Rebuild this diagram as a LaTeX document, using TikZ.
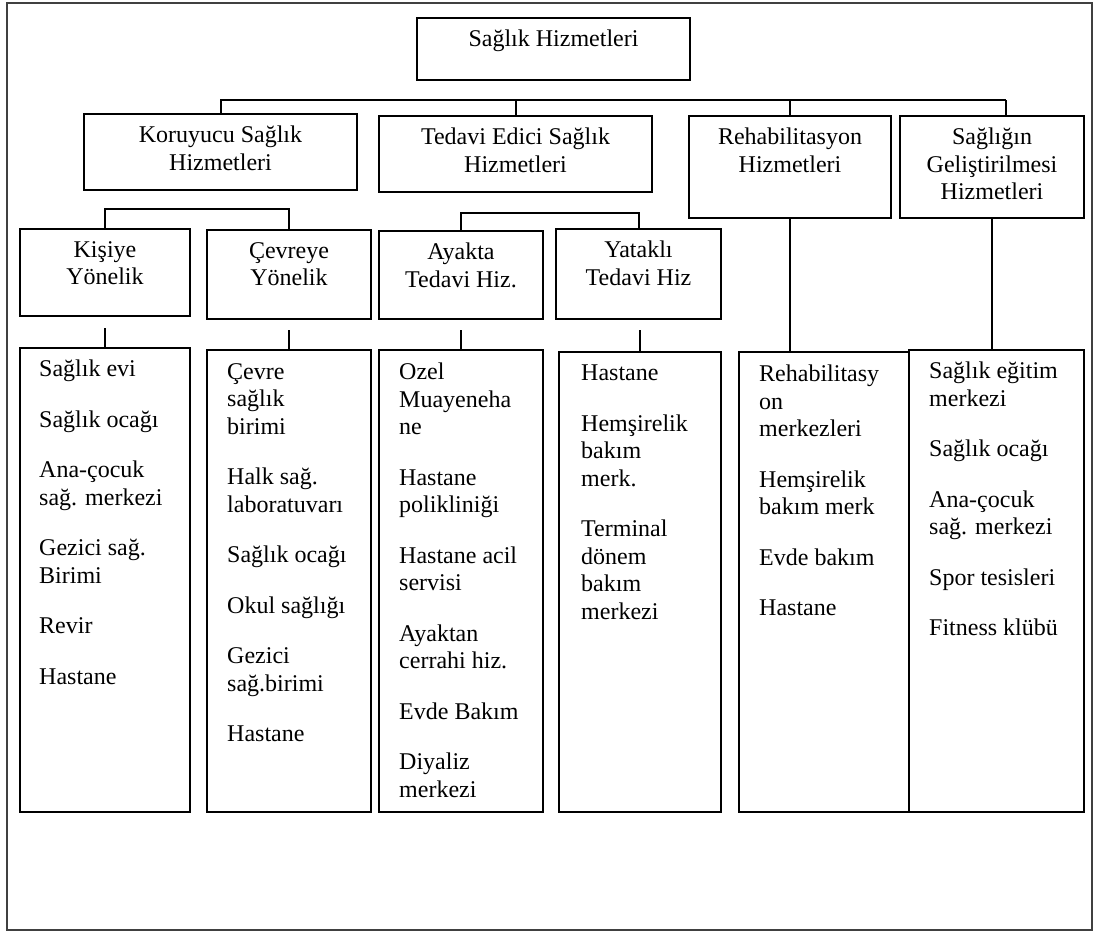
\documentclass[tikz,border=0pt]{standalone}
\usepackage{fontspec}
\setmainfont{Liberation Serif}
\usepackage{tikz}

\begin{document}
\begin{tikzpicture}[x=1pt, y=-1pt,
  every node/.style={font=\fontsize{24}{27.5}\selectfont},
  cell/.style={draw, line width=2pt, anchor=north west, inner sep=0pt},
  head/.style={anchor=north, align=center, inner sep=0pt},
  items/.style={anchor=north west, align=left, inner sep=0pt},
  link/.style={line width=2pt}]
  \useasboundingbox (0,0) rectangle (1097,932);
  \draw [line width=1.5pt, black!75] (7,3) rectangle (1092,930);

  \node (top) [cell, minimum width=273, minimum height=62] at (416,17) {};
  \node (kor) [cell, minimum width=273, minimum height=76] at (83,113) {};
  \node (ted) [cell, minimum width=273, minimum height=76] at (378,115) {};
  \node (reh) [cell, minimum width=202, minimum height=102] at (688,115) {};
  \node (gel) [cell, minimum width=184, minimum height=102] at (899,115) {};
  \node (kis) [cell, minimum width=170, minimum height=87] at (19,228) {};
  \node (cev) [cell, minimum width=164, minimum height=89] at (206,229) {};
  \node (aya) [cell, minimum width=164, minimum height=88] at (378,230) {};
  \node (yat) [cell, minimum width=165, minimum height=90] at (555,228) {};
  \node (kisL) [cell, minimum width=170, minimum height=464] at (19,347) {};
  \node (cevL) [cell, minimum width=164, minimum height=462] at (206,349) {};
  \node (ayaL) [cell, minimum width=164, minimum height=462] at (378,349) {};
  \node (yatL) [cell, minimum width=162, minimum height=460] at (558,351) {};
  \node (rehL) [cell, minimum width=170, minimum height=460] at (738,351) {};
  \node (gelL) [cell, minimum width=175, minimum height=462] at (908,349) {};

  \node (top-t) [head] at ([yshift=-13pt]top.north) {Sağlık Hizmetleri};
  \node (kor-t) [head] at ([yshift=-13pt]kor.north) {Koruyucu Sağlık\\Hizmetleri};
  \node (ted-t) [head] at ([yshift=-13pt]ted.north) {Tedavi Edici Sağlık\\Hizmetleri};
  \node (reh-t) [head] at ([yshift=-13pt]reh.north) {Rehabilitasyon\\Hizmetleri};
  \node (gel-t) [head] at ([yshift=-13pt]gel.north) {Sağlığın\\Geliştirilmesi\\Hizmetleri};
  \node (kis-t) [head] at ([yshift=-13pt]kis.north) {Kişiye\\Yönelik};
  \node (cev-t) [head] at ([yshift=-13pt]cev.north) {Çevreye\\Yönelik};
  \node (aya-t) [head] at ([yshift=-13pt]aya.north) {Ayakta\\Tedavi Hiz.};
  \node (yat-t) [head] at ([yshift=-13pt]yat.north) {Yataklı\\Tedavi Hiz};

  \node (kisL-t) [items] at ([xshift=20pt, yshift=-13pt]kisL.north west)
    {Sağlık evi\\[23pt]Sağlık ocağı\\[23pt]Ana-çocuk\\sağ. merkezi\\[23pt]Gezici sağ.\\Birimi\\[23pt]Revir\\[23pt]Hastane};
  \node (cevL-t) [items] at ([xshift=21pt, yshift=-14pt]cevL.north west)
    {Çevre\\sağlık\\birimi\\[23pt]Halk sağ.\\laboratuvarı\\[23pt]Sağlık ocağı\\[23pt]Okul sağlığı\\[23pt]Gezici\\sağ.birimi\\[23pt]Hastane};
  \node (ayaL-t) [items] at ([xshift=21pt, yshift=-14pt]ayaL.north west)
    {Ozel\\Muayeneha\\ne\\[23pt]Hastane\\polikliniği\\[23pt]Hastane acil\\servisi\\[23pt]Ayaktan\\cerrahi hiz.\\[23pt]Evde Bakım\\[23pt]Diyaliz\\merkezi};
  \node (yatL-t) [items] at ([xshift=23pt, yshift=-14pt]yatL.north west)
    {Hastane\\[23pt]Hemşirelik\\bakım\\merk.\\[23pt]Terminal\\dönem\\bakım\\merkezi};
  \node (rehL-t) [items] at ([xshift=21pt, yshift=-14pt]rehL.north west)
    {Rehabilitasy\\on\\merkezleri\\[23pt]Hemşirelik\\bakım merk\\[23pt]Evde bakım\\[23pt]Hastane};
  \node (gelL-t) [items] at ([xshift=21pt, yshift=-13pt]gelL.north west)
    {Sağlık eğitim\\merkezi\\[23pt]Sağlık ocağı\\[23pt]Ana-çocuk\\sağ. merkezi\\[23pt]Spor tesisleri\\[23pt]Fitness klübü};

  \coordinate (busR) at (1006,100);
  \draw [link] (kor.north) |- (busR);
  \draw [link] (busR) -- (busR |- gel.north);
  \draw [link] (ted.north) -- (ted.north |- busR);
  \draw [link] (reh.north) -- (reh.north |- busR);
  \draw [link] (kis.north) -- ++(0,-19) -| (cev.north);
  \draw [link] (aya.north) -- ++(0,-17) -| (yat.north);
  \draw [link] (kisL.north) -- ++(0,-19);
  \draw [link] (cevL.north) -- ++(0,-19);
  \draw [link] (ayaL.north) -- ++(0,-19);
  \draw [link] (yatL.north) -- ++(0,-21);
  \draw [link] (reh.south) -- (reh.south |- rehL.north);
  \draw [link] (gel.south) -- (gel.south |- gelL.north);
\end{tikzpicture}
\end{document}
